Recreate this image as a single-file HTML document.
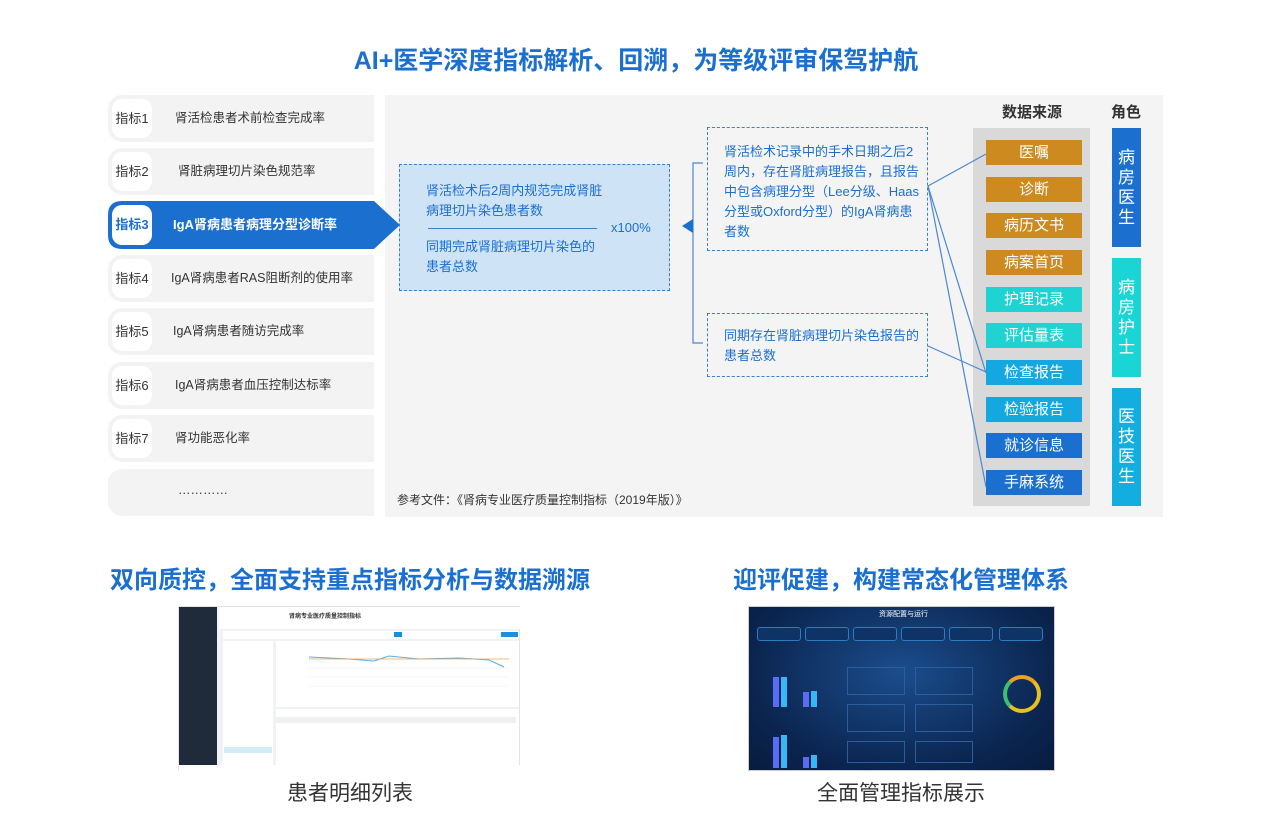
<!DOCTYPE html>
<html><head><meta charset="utf-8"><style>
*{margin:0;padding:0;box-sizing:border-box}
body{width:1272px;height:840px;background:#fff;font-family:"Liberation Sans","Noto Sans CJK SC",sans-serif;position:relative;overflow:hidden;color:#333}
.a{position:absolute}
.t{white-space:nowrap}
.item{position:absolute;left:108px;width:266px;height:47px;background:#f3f3f3;border-radius:14px 0 0 14px}
.item .b{position:absolute;left:4px;top:4px;width:40px;height:39px;background:#fff;border-radius:10px;font-size:13px;line-height:39px;text-align:center;color:#333}
.item .l{position:absolute;top:0;line-height:47px;font-size:12.5px;color:#333;white-space:nowrap}
.ds{position:absolute;left:986px;width:96px;height:25px;color:#fff;font-size:15px;text-align:center;line-height:25px}
.role{position:absolute;left:1112px;width:29px;color:#fff;font-size:17px;line-height:20px;text-align:center;display:flex;flex-direction:column;justify-content:center}
.dash{position:absolute;border:1.5px dashed #3a7fd0}
.bt{font-size:13px;color:#1a6fd0;line-height:20px}
</style></head><body>
<div class="a t" style="left:0;width:1272px;top:41px;text-align:center;font-size:25px;font-weight:bold;color:#1a6fd0">AI+医学深度指标解析、回溯，为等级评审保驾护航</div>

<div class="a" style="left:385px;top:95px;width:778px;height:422px;background:#f4f4f4"></div>
<div class="a t" style="left:397px;top:491px;font-size:12px;color:#333">参考文件：《肾病专业医疗质量控制指标（2019年版）》</div>

<div class="item" style="top:95px"><div class="b">指标1</div><div class="l" style="left:67px">肾活检患者术前检查完成率</div></div>
<div class="item" style="top:148px"><div class="b">指标2</div><div class="l" style="left:70px">肾脏病理切片染色规范率</div></div>
<svg class="a" style="left:108px;top:201px" width="295" height="48"><path d="M14 0H266L292 24L266 48H14Q0 48 0 34V14Q0 0 14 0Z" fill="#1b6fcf"/></svg>
<div class="a" style="left:112px;top:205px;width:40px;height:40px;background:#fff;border-radius:10px;font-size:13px;line-height:40px;text-align:center;color:#1b6fcf;font-weight:bold">指标3</div>
<div class="a t" style="left:173px;top:201px;line-height:48px;color:#fff;font-weight:bold;font-size:13px">IgA肾病患者病理分型诊断率</div>
<div class="item" style="top:255px"><div class="b">指标4</div><div class="l" style="left:63px">IgA肾病患者RAS阻断剂的使用率</div></div>
<div class="item" style="top:308px"><div class="b">指标5</div><div class="l" style="left:65px">IgA肾病患者随访完成率</div></div>
<div class="item" style="top:362px"><div class="b">指标6</div><div class="l" style="left:67px">IgA肾病患者血压控制达标率</div></div>
<div class="item" style="top:415px"><div class="b">指标7</div><div class="l" style="left:67px">肾功能恶化率</div></div>
<div class="item" style="top:469px"><div class="l" style="left:70px;top:-2px">…………</div></div>

<div class="dash" style="left:399px;top:164px;width:271px;height:127px;background:#cfe3f7"></div>
<div class="a bt" style="left:426px;top:181px">肾活检术后2周内规范完成肾脏<br>病理切片染色患者数</div>
<div class="a" style="left:428px;top:228px;width:169px;height:1px;background:#3a7fd0"></div>
<div class="a bt t" style="left:611px;top:218px">x100%</div>
<div class="a bt" style="left:426px;top:237px">同期完成肾脏病理切片染色的<br>患者总数</div>

<div class="dash" style="left:707px;top:127px;width:221px;height:124px"></div>
<div class="a bt" style="left:724px;top:142px;width:200px">肾活检术记录中的手术日期之后2周内，存在肾脏病理报告，且报告中包含病理分型（Lee分级、Haas分型或Oxford分型）的IgA肾病患者数</div>
<div class="dash" style="left:707px;top:313px;width:221px;height:64px"></div>
<div class="a bt" style="left:724px;top:326px;width:200px">同期存在肾脏病理切片染色报告的患者总数</div>

<div class="a t" style="left:1002px;top:101px;font-size:15px;font-weight:bold;color:#333">数据来源</div>
<div class="a t" style="left:1111px;top:101px;font-size:15px;font-weight:bold;color:#333">角色</div>
<div class="a" style="left:973px;top:128px;width:117px;height:378px;background:#d9d9d9"></div>
<div class="ds" style="top:140px;background:#cd8a1e">医嘱</div>
<div class="ds" style="top:177px;background:#cd8a1e">诊断</div>
<div class="ds" style="top:213px;background:#cd8a1e">病历文书</div>
<div class="ds" style="top:250px;background:#cd8a1e">病案首页</div>
<div class="ds" style="top:287px;background:#1fd3d3">护理记录</div>
<div class="ds" style="top:323px;background:#1fd3d3">评估量表</div>
<div class="ds" style="top:360px;background:#15a8e0">检查报告</div>
<div class="ds" style="top:397px;background:#15a8e0">检验报告</div>
<div class="ds" style="top:433px;background:#1b6fcf">就诊信息</div>
<div class="ds" style="top:470px;background:#1b6fcf">手麻系统</div>
<div class="role" style="top:128px;height:119px;background:#1b6fcf"><span>病</span><span>房</span><span>医</span><span>生</span></div>
<div class="role" style="top:258px;height:119px;background:#1ad5d5"><span>病</span><span>房</span><span>护</span><span>士</span></div>
<div class="role" style="top:388px;height:118px;background:#13aee0"><span>医</span><span>技</span><span>医</span><span>生</span></div>

<svg class="a" style="left:0;top:0" width="1272" height="840">
<path d="M703 163H693V343H703" fill="none" stroke="#4a88d0" stroke-width="1.2"/>
<path d="M682 226L693 219V233Z" fill="#1b6fcf"/>
<g stroke="#4a88d0" stroke-width="1.2" fill="none">
<line x1="928" y1="186" x2="986" y2="154"/>
<line x1="928" y1="186" x2="986" y2="373"/>
<line x1="928" y1="186" x2="986" y2="487"/>
<line x1="928" y1="346" x2="986" y2="372"/>
</g>
</svg>

<div class="a t" style="left:0;width:700px;top:560px;text-align:center;font-size:24px;font-weight:bold;color:#1a6fd0">双向质控，全面支持重点指标分析与数据溯源</div>
<div class="a t" style="left:651px;width:500px;top:560px;text-align:center;font-size:24px;font-weight:bold;color:#1a6fd0">迎评促建，构建常态化管理体系</div>

<!-- left screenshot -->
<div class="a" style="left:178px;top:606px;width:342px;height:165px;background:#f0f2f5;border:1px solid #e4e4e4">
 <div class="a" style="left:0;top:0;width:38px;height:158px;background:#1f2a3a"></div>
 <div class="a" style="left:0;top:158px;width:342px;height:7px;background:#fff"></div>
 <div class="a" style="left:40px;top:0;width:302px;height:22px;background:#fff"></div>
 <div class="a t" style="left:110px;top:4px;font-size:6px;font-weight:bold;color:#333">肾病专业医疗质量控制指标</div>
 <div class="a" style="left:44px;top:24px;width:296px;height:8px;background:#fff"></div>
 <div class="a" style="left:215px;top:25px;width:8px;height:5px;background:#1a8ee0"></div>
 <div class="a" style="left:322px;top:25px;width:17px;height:5px;background:#1a8ee0"></div>
 <div class="a" style="left:44px;top:34px;width:50px;height:124px;background:#fff"></div>
 <div class="a" style="left:45px;top:140px;width:48px;height:6px;background:#d5ebf8"></div>
 <div class="a" style="left:97px;top:34px;width:243px;height:66px;background:#fff"></div>
 <svg class="a" style="left:130px;top:46px" width="200" height="40"><polyline points="0,4 40,6 65,8 80,3 110,6 150,5 180,7 195,14" fill="none" stroke="#5aaee8" stroke-width="1"/><line x1="0" y1="6" x2="200" y2="6" stroke="#f0a050" stroke-width="0.8"/><g stroke="#eee" stroke-width="0.5"><line x1="0" y1="15" x2="200" y2="15"/><line x1="0" y1="24" x2="200" y2="24"/><line x1="0" y1="33" x2="200" y2="33"/></g></svg>
 <div class="a" style="left:97px;top:102px;width:243px;height:56px;background:#fff"></div>
 <div class="a" style="left:97px;top:110px;width:240px;height:6px;background:#f0f0f0"></div>
</div>
<!-- right screenshot -->
<div class="a" style="left:748px;top:606px;width:307px;height:165px;background:radial-gradient(ellipse at 50% 40%,#1b4d8c,#0b2550 70%,#081c3e);border:1px solid #ccc">
 <div class="a t" style="left:130px;top:2px;font-size:7px;color:#fff">资源配置与运行</div>
 <div class="a" style="left:8px;top:20px;width:44px;height:14px;border:1px solid #2d7bc0;border-radius:3px;background:#0e3366"></div>
 <div class="a" style="left:56px;top:20px;width:44px;height:14px;border:1px solid #2d7bc0;border-radius:3px;background:#0e3366"></div>
 <div class="a" style="left:104px;top:20px;width:44px;height:14px;border:1px solid #2d7bc0;border-radius:3px;background:#0e3366"></div>
 <div class="a" style="left:152px;top:20px;width:44px;height:14px;border:1px solid #2d7bc0;border-radius:3px;background:#0e3366"></div>
 <div class="a" style="left:200px;top:20px;width:44px;height:14px;border:1px solid #2d7bc0;border-radius:3px;background:#0e3366"></div>
 <div class="a" style="left:250px;top:20px;width:44px;height:14px;border:1px solid #2d7bc0;border-radius:3px;background:#0e3366"></div>
 <div class="a" style="left:24px;top:70px;width:6px;height:30px;background:#5a6cf5"></div>
 <div class="a" style="left:32px;top:70px;width:6px;height:30px;background:#38b6f5"></div>
 <div class="a" style="left:54px;top:85px;width:6px;height:15px;background:#5a6cf5"></div>
 <div class="a" style="left:62px;top:84px;width:6px;height:16px;background:#38b6f5"></div>
 <div class="a" style="left:24px;top:130px;width:6px;height:31px;background:#5a6cf5"></div>
 <div class="a" style="left:32px;top:128px;width:6px;height:33px;background:#38b6f5"></div>
 <div class="a" style="left:54px;top:150px;width:6px;height:11px;background:#5a6cf5"></div>
 <div class="a" style="left:62px;top:148px;width:6px;height:13px;background:#38b6f5"></div>
 <div class="a" style="left:98px;top:60px;width:58px;height:28px;border:1px solid #2a5f9e"></div>
 <div class="a" style="left:166px;top:60px;width:58px;height:28px;border:1px solid #2a5f9e"></div>
 <div class="a" style="left:98px;top:97px;width:58px;height:28px;border:1px solid #2a5f9e"></div>
 <div class="a" style="left:166px;top:97px;width:58px;height:28px;border:1px solid #2a5f9e"></div>
 <div class="a" style="left:98px;top:134px;width:58px;height:22px;border:1px solid #2a5f9e"></div>
 <div class="a" style="left:166px;top:134px;width:58px;height:22px;border:1px solid #2a5f9e"></div>
 <div class="a" style="left:254px;top:68px;width:38px;height:38px;border-radius:50%;border:4px solid #e8c020;border-left-color:#3ac070;border-top-color:#f0a020"></div>
</div>

<div class="a t" style="left:0;width:700px;top:777px;text-align:center;font-size:21px;color:#333">患者明细列表</div>
<div class="a t" style="left:651px;width:500px;top:777px;text-align:center;font-size:21px;color:#333">全面管理指标展示</div>
</body></html>
